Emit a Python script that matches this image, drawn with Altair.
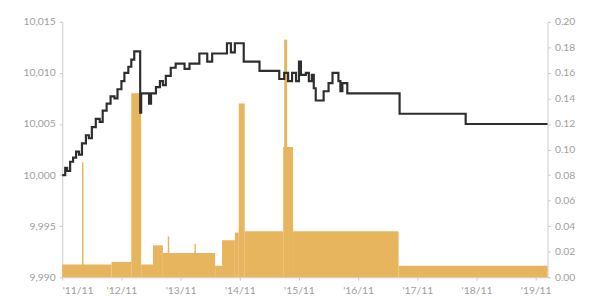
import altair as alt
import pandas as pd

# Black step line (left axis): month offset from Nov 2011, value
line_month = [0, 0.6, 1.0, 1.6, 2.2, 2.8, 3.4, 4.0, 4.8, 5.4, 6.0, 6.8, 7.6, 8.2, 9.0, 9.8,
              10.6, 11.2, 12.0, 12.6, 13.4, 14.0, 14.6, 15.8, 16.0, 17.6, 18.0, 19.0, 19.8,
              20.4, 21.0, 22.0, 23.0, 24.8, 25.8, 27.8, 29.4, 30.4, 33.4, 34.2, 35.0, 36.8,
              40.0, 44.0, 45.0, 45.8, 46.6, 47.4, 48.0, 48.4, 49.4, 50.0, 50.6, 51.0, 51.4,
              53.0, 54.0, 54.8, 56.0, 56.4, 56.8, 57.8, 68.4, 81.8, 98.4]
line_value = [10.0000, 10.0007, 10.0004, 10.0013, 10.0017, 10.0023, 10.0020, 10.0031, 10.0039,
              10.0036, 10.0047, 10.0055, 10.0052, 10.0063, 10.0070, 10.0077, 10.0075, 10.0084,
              10.0092, 10.0100, 10.0106, 10.0113, 10.0121, 10.0061, 10.0080, 10.0070, 10.0080,
              10.0086, 10.0092, 10.0088, 10.0097, 10.0105, 10.0109, 10.0104, 10.0109, 10.0119,
              10.0111, 10.0119, 10.0129, 10.0120, 10.0129, 10.0111, 10.0102, 10.0094, 10.0100,
              10.0092, 10.0100, 10.0092, 10.0111, 10.0098, 10.0100, 10.0092, 10.0098, 10.0085,
              10.0073, 10.0082, 10.0090, 10.0100, 10.0092, 10.0082, 10.0090, 10.0080, 10.0060,
              10.0050, 10.0050]

# Orange bars (right axis): start month, end month, value
bar_start = [0, 10, 14, 16, 18.4, 20.4, 31, 32.4, 35, 35.8, 37, 44.8, 46.8, 68.2,
             4.0, 21.4, 26.8, 45.0]
bar_end = [10, 14, 16, 18.4, 20.4, 31, 32.4, 35, 35.8, 37, 44.8, 46.8, 68.2, 98.4,
           4.3, 21.7, 27.1, 45.6]
bar_value = [0.010, 0.012, 0.144, 0.010, 0.025, 0.019, 0.009, 0.029, 0.035, 0.136, 0.036,
             0.102, 0.036, 0.009, 0.090, 0.032, 0.026, 0.186]

x_ticks = [0, 12, 24, 36, 48, 60, 72, 84, 96]

line_df = pd.DataFrame({"m": line_month, "v": line_value})
bar_df = pd.DataFrame({"m0": bar_start, "m1": bar_end, "v": bar_value})

FONT = "Lato"
LBL = "#a0a0a0"
AX = "#cccccc"

x_scale = alt.Scale(domain=[0, 98.4], nice=False, zero=False)
x_axis = alt.Axis(values=x_ticks, labelExpr="\"'\" + (11 + datum.value / 12) + '/11'",
                  grid=False, domainColor=AX, tickColor=AX, tickSize=3,
                  labelColor=LBL, labelFontSize=10.5, labelPadding=5, title=None,
                  labelFont=FONT)

bars = alt.Chart(bar_df).mark_rect(color="#E7B55E").encode(
    x=alt.X("m0:Q", scale=x_scale, axis=x_axis),
    x2="m1:Q",
    y=alt.Y("v:Q", scale=alt.Scale(domain=[0, 0.20], nice=False),
            axis=alt.Axis(orient="right", values=[0, 0.02, 0.04, 0.06, 0.08, 0.10, 0.12,
                                                  0.14, 0.16, 0.18, 0.20],
                          format=".2f", grid=False, domainColor=AX,
                          tickColor=AX, tickSize=3, labelColor=LBL,
                          labelFontSize=10.5, labelPadding=4, title=None, labelFont=FONT)),
    y2=alt.datum(0),
)

line = alt.Chart(line_df).mark_line(interpolate="step-after", color="#2e2e2e",
                                    strokeWidth=2.2).encode(
    x=alt.X("m:Q", scale=x_scale, axis=x_axis),
    y=alt.Y("v:Q", scale=alt.Scale(domain=[9.990, 10.015], nice=False, zero=False),
            axis=alt.Axis(orient="left", values=[9.990, 9.995, 10.000, 10.005, 10.010, 10.015],
                          labelExpr="replace(format(datum.value, ',.3f'), '.', ',')",
                          grid=False, domainColor=AX, tickColor=AX,
                          tickSize=3, labelColor=LBL, labelFontSize=10.5,
                          labelPadding=4, title=None, labelFont=FONT)),
)

chart = alt.layer(bars, line).resolve_scale(y="independent").properties(
    width=492, height=259,
    autosize=alt.AutoSizeParams(type="none"),
    padding={"left": 55, "top": 12, "right": 39, "bottom": 16},
).configure_view(stroke=None)

chart.save("out.html", embed_options={"renderer": "svg", "actions": False})
